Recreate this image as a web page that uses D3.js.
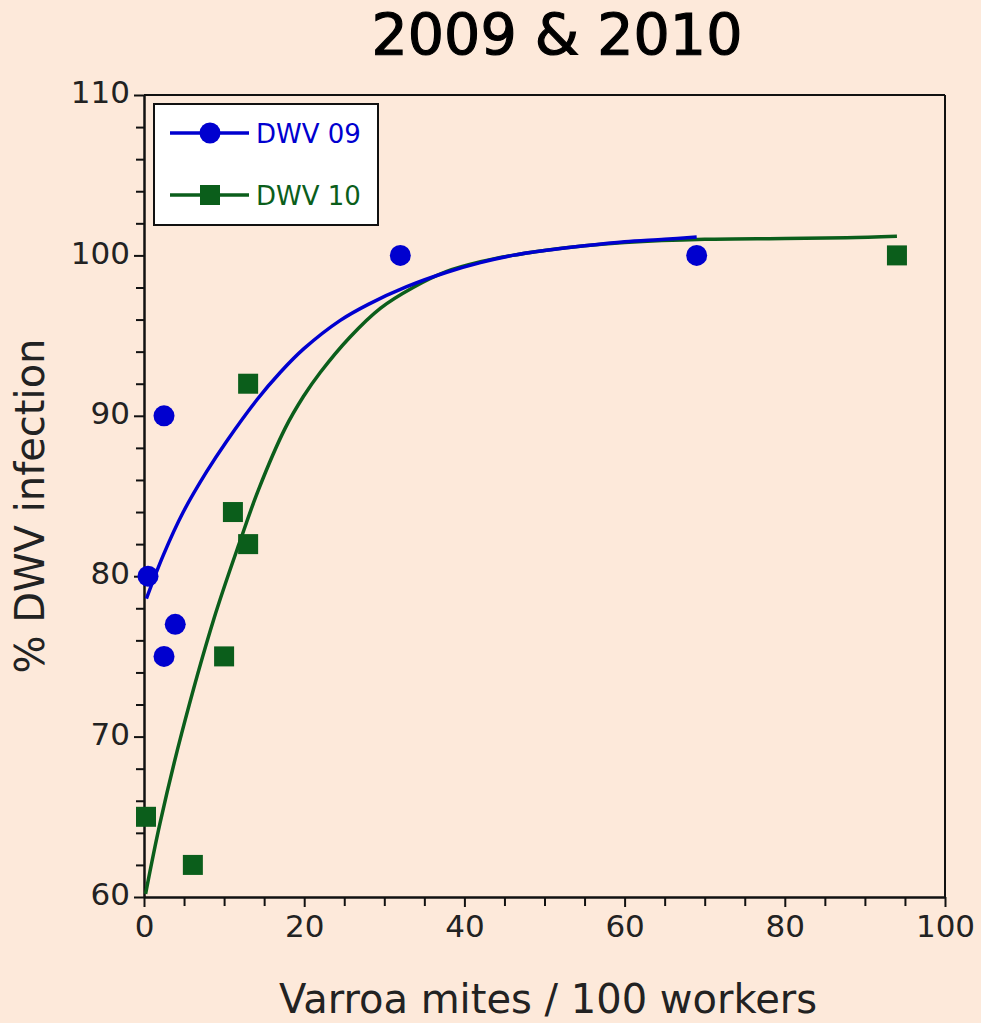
<!DOCTYPE html>
<html>
<head>
<meta charset="utf-8">
<script src="https://cdn.jsdelivr.net/npm/d3@7"></script>
<style>
  html, body { margin: 0; padding: 0; background: #fde9da; }
  svg { display: block; }
  text { font-family: "DejaVu Sans", sans-serif; }
</style>
</head>
<body>
<script>
// ---- data ----
const title = "2009 & 2010";
const xLabel = "Varroa mites / 100 workers";
const yLabel = "% DWV infection";
const seriesNames = ["DWV 09", "DWV 10"];

// observed points
const dwv09X = [0.5, 2.5, 2.5, 3.9, 32, 69];
const dwv09Y = [80, 90, 75, 77, 100, 100];
const dwv10X = [0.25, 6.1, 10, 11.1, 13, 13, 94];
const dwv10Y = [65, 62, 75, 84, 82, 92, 100];

// fitted curves
const fit09X = [0.3, 2.4, 4.9, 7.8, 10.3, 14.1, 17, 20, 24.5, 28, 32.8, 37.8, 42, 46, 50, 55, 60, 65, 69];
const fit09Y = [78.6, 81.3, 84.0, 86.5, 88.4, 91.0, 92.7, 94.2, 95.95, 96.95, 98.05, 98.95, 99.55, 100.0, 100.3, 100.6, 100.85, 101.0, 101.15];
const fit10X = [0.2, 2.0, 4.7, 8.7, 12, 14.3, 17.6, 19.9, 22, 25.7, 29.5, 33.6, 37.8, 42, 46, 50, 55, 60, 70, 80, 87.7, 94];
const fit10Y = [60.2, 64.6, 70.2, 77.3, 82.2, 85.4, 89.2, 91.2, 92.7, 94.9, 96.7, 98.0, 99.0, 99.6, 100.0, 100.3, 100.6, 100.8, 101.0, 101.05, 101.1, 101.2];

const xTicks = [0, 20, 40, 60, 80, 100];
const xMinor = [5, 10, 15, 25, 30, 35, 45, 50, 55, 65, 70, 75, 85, 90, 95];
const yTicks = [60, 70, 80, 90, 100, 110];
const yMinor = [62, 64, 66, 68, 72, 74, 76, 78, 82, 84, 86, 88, 92, 94, 96, 98, 102, 104, 106, 108];

// ---- drawing ----
const W = 981, H = 1023;
const blue = "#0000cf", green = "#0b5e1b";
const svg = d3.select("body").append("svg").attr("width", W).attr("height", H);
svg.append("rect").attr("width", W).attr("height", H).attr("fill", "#fde9da");

const x = d3.scaleLinear().domain([0, 100]).range([144, 945]);
const y = d3.scaleLinear().domain([60, 110]).range([897, 95]);

// frame top & right
svg.append("line").attr("x1", x(0)).attr("x2", x(100)).attr("y1", y(110)).attr("y2", y(110))
  .attr("stroke", "#111").attr("stroke-width", 2);
svg.append("line").attr("x1", x(100)).attr("x2", x(100)).attr("y1", y(110)).attr("y2", y(60))
  .attr("stroke", "#111").attr("stroke-width", 2);

// axes
const gx = svg.append("g").attr("transform", `translate(0,${y(60)})`)
  .call(d3.axisBottom(x).tickValues(xTicks).tickSize(10).tickSizeOuter(0).tickFormat(d3.format("d")));
const gxm = svg.append("g").attr("transform", `translate(0,${y(60)})`)
  .call(d3.axisBottom(x).tickValues(xMinor).tickSize(9).tickFormat(""));
gxm.select(".domain").remove();
const gy = svg.append("g").attr("transform", `translate(${x(0)},0)`)
  .call(d3.axisLeft(y).tickValues(yTicks).tickSize(10).tickSizeOuter(0).tickFormat(d3.format("d")));
const gym = svg.append("g").attr("transform", `translate(${x(0)},0)`)
  .call(d3.axisLeft(y).tickValues(yMinor).tickSize(8).tickFormat(""));
gym.select(".domain").remove();

[gx, gxm, gy, gym].forEach(g => {
  g.selectAll("path.domain").attr("stroke", "#111").attr("stroke-width", 2.5);
  g.selectAll(".tick line").attr("stroke", "#111").attr("stroke-width", 2);
});
gx.selectAll(".tick text").attr("font-family", "DejaVu Sans").attr("font-size", 31)
  .attr("fill", "#222").attr("y", 40).attr("dy", 0);
gy.selectAll(".tick text").attr("font-family", "DejaVu Sans").attr("font-size", 31)
  .attr("fill", "#222").attr("x", -14).attr("dy", "0.25em");

// axis titles
svg.append("text").attr("x", 548).attr("y", 1013).attr("text-anchor", "middle")
  .attr("font-size", 40).attr("fill", "#222").text(xLabel);
svg.append("text").attr("transform", `translate(44,506) rotate(-90)`).attr("text-anchor", "middle")
  .attr("font-size", 40).attr("fill", "#222").text(yLabel);

// title
svg.append("text").attr("x", 557).attr("y", 55).attr("text-anchor", "middle")
  .attr("font-family", "DejaVu Sans")
  .attr("font-size", 57).attr("fill", "#000").attr("stroke", "#000").attr("stroke-width", 1.2)
  .text(title);

// curves
const line = d3.line().x(d => x(d[0])).y(d => y(d[1])).curve(d3.curveCatmullRom.alpha(0.5));
svg.append("path").datum(fit10X.map((v, i) => [v, fit10Y[i]]))
  .attr("d", line).attr("fill", "none").attr("stroke", green).attr("stroke-width", 3.5);
svg.append("path").datum(fit09X.map((v, i) => [v, fit09Y[i]]))
  .attr("d", line).attr("fill", "none").attr("stroke", blue).attr("stroke-width", 3.5);

// points
svg.append("g").selectAll("rect").data(dwv10X.map((v, i) => [v, dwv10Y[i]])).join("rect")
  .attr("x", d => x(d[0]) - 10).attr("y", d => y(d[1]) - 10)
  .attr("width", 20).attr("height", 20).attr("fill", green);
svg.append("g").selectAll("circle").data(dwv09X.map((v, i) => [v, dwv09Y[i]])).join("circle")
  .attr("cx", d => x(d[0])).attr("cy", d => y(d[1])).attr("r", 10.5).attr("fill", blue);

// legend
const lg = svg.append("g");
lg.append("rect").attr("x", 154).attr("y", 104).attr("width", 224).attr("height", 121)
  .attr("fill", "#fff").attr("stroke", "#111").attr("stroke-width", 2);
const legendRows = [
  { name: seriesNames[0], color: blue, shape: "circle", y: 133 },
  { name: seriesNames[1], color: green, shape: "square", y: 195 }
];
legendRows.forEach(r => {
  lg.append("line").attr("x1", 170).attr("x2", 249).attr("y1", r.y).attr("y2", r.y)
    .attr("stroke", r.color).attr("stroke-width", 3.5);
  if (r.shape === "circle") {
    lg.append("circle").attr("cx", 210).attr("cy", r.y).attr("r", 10.5).attr("fill", r.color);
  } else {
    lg.append("rect").attr("x", 200).attr("y", r.y - 10).attr("width", 20).attr("height", 20).attr("fill", r.color);
  }
  lg.append("text").attr("x", 256).attr("y", r.y + 10).attr("font-size", 26)
    .attr("fill", r.color).text(r.name);
});
</script>
</body>
</html>
